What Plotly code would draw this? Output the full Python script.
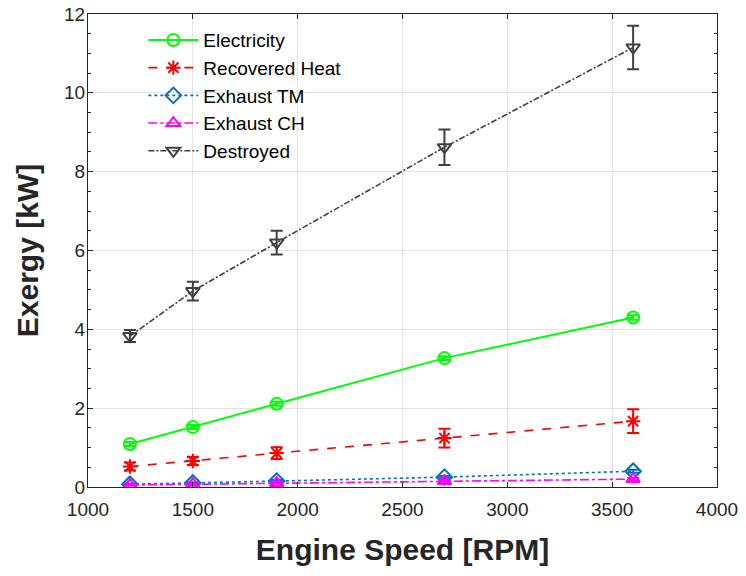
import plotly.graph_objects as go

rpm = [1200, 1500, 1900, 2700, 3600]

electricity = [1.09, 1.52, 2.11, 3.27, 4.30]
electricity_err = [0.05, 0.05, 0.05, 0.05, 0.06]

recovered_heat = [0.52, 0.66, 0.86, 1.24, 1.67]
recovered_heat_err = [0.10, 0.10, 0.15, 0.24, 0.30]

exhaust_tm = [0.07, 0.10, 0.15, 0.25, 0.40]
exhaust_tm_err = [0.02, 0.02, 0.03, 0.03, 0.04]

exhaust_ch = [0.05, 0.07, 0.10, 0.15, 0.20]
exhaust_ch_err = [0.02, 0.02, 0.02, 0.03, 0.03]

destroyed = [3.83, 4.97, 6.20, 8.62, 11.15]
destroyed_err = [0.15, 0.24, 0.30, 0.45, 0.55]

series = [
    ("Electricity", electricity, electricity_err, "#00FF00", "solid", "circle-open", 2),
    ("Recovered Heat", recovered_heat, recovered_heat_err, "#FF0000", "dash", "asterisk-open", 1.6),
    ("Exhaust TM", exhaust_tm, exhaust_tm_err, "#0072BD", "dot", "diamond-open", 1.6),
    ("Exhaust CH", exhaust_ch, exhaust_ch_err, "#FF00FF", "dashdot", "triangle-up-open", 1.6),
    ("Destroyed", destroyed, destroyed_err, "#404040", "6px,2px,2px,2px", "triangle-down-open", 1.6),
]

fig = go.Figure()
for name, y, err, color, dash, sym, lw in series:
    fig.add_trace(go.Scatter(
        x=rpm, y=y, name=name, mode="lines+markers",
        line=dict(color=color, dash=dash, width=lw),
        marker=dict(symbol=sym, size=12, color=color, line=dict(width=2, color=color)),
        error_y=dict(type="data", array=err, visible=True, color=color, thickness=2, width=6),
    ))

FONT = "Liberation Sans, Arial, sans-serif"
axis_common = dict(
    showline=True, linecolor="#262626", linewidth=1.2, mirror="ticks",
    ticks="inside", ticklen=5, tickcolor="#262626",
    showgrid=True, gridcolor="#e3e3e3", gridwidth=1, zeroline=False,
    tickfont=dict(family=FONT, size=19, color="#262626"),
    automargin=False, ticklabeloverflow="allow",
)

fig.update_xaxes(
    range=[1000, 4000], tickvals=[1000, 1500, 2000, 2500, 3000, 3500, 4000],
    ticklabelstandoff=5,
    title=dict(text="<b>Engine Speed [RPM]</b>", font=dict(family=FONT, size=30, color="#262626"), standoff=20),
    **axis_common,
)
fig.update_yaxes(
    range=[0, 12], tickvals=[0, 2, 4, 6, 8, 10, 12],
    ticklabelstandoff=-2,
    minor=dict(ticks="inside", ticklen=3, tickcolor="#262626", dtick=0.5, showgrid=False),
    title=dict(text="<b>Exergy [kW]</b>", font=dict(family=FONT, size=30, color="#262626"), standoff=16),
    **axis_common,
)

fig.update_layout(
    width=746, height=576,
    margin=dict(l=88, r=29, t=14, b=89),
    plot_bgcolor="white", paper_bgcolor="white",
    legend=dict(
        x=0.088, y=0.985, xanchor="left", yanchor="top",
        bgcolor="rgba(255,255,255,0)", borderwidth=0,
        font=dict(family=FONT, size=19, color="#000000"),
        tracegroupgap=0, itemwidth=50,
    ),
    showlegend=True,
)

fig.write_html(
    "out.html",
    config={"displayModeBar": False},
    post_script="document.body.style.margin='0px';document.body.style.overflow='hidden';",
)
